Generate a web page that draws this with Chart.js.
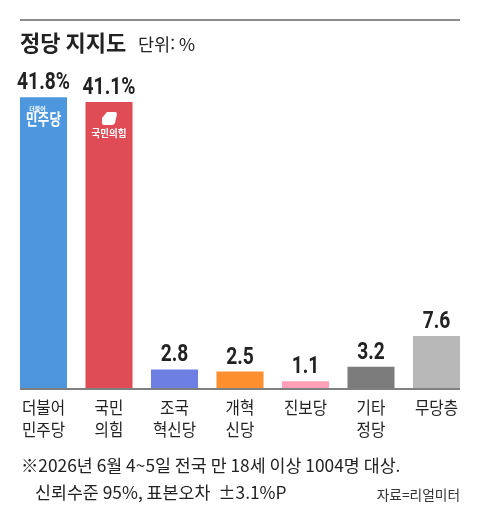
<!DOCTYPE html>
<html lang="ko">
<head>
<meta charset="utf-8">
<title>정당 지지도</title>
<script src="https://cdn.jsdelivr.net/npm/chart.js@4.4.1/dist/chart.umd.min.js"></script>
<style>
  html, body { margin: 0; padding: 0; background: #fff; }
  #wrap { position: relative; width: 480px; height: 525px; }
</style>
</head>
<body>
<div id="wrap"><canvas id="chart" width="480" height="525"></canvas></div>
<script>
// data
const parties = [['더불어', '민주당'], ['국민', '의힘'], ['조국', '혁신당'], ['개혁', '신당'], ['진보당'], ['기타', '정당'], ['무당층']];
const support = [41.8, 41.1, 2.8, 2.5, 1.1, 3.2, 7.6];
const valueLabels = ['41.8%', '41.1%', '2.8', '2.5', '1.1', '3.2', '7.6'];
const barColors = ['#4c97dd', '#e04c55', '#6e7fe3', '#fd8f2f', '#ffa0b8', '#7c7c7c', '#b8b8b8'];

const KR = '"Noto Sans CJK KR", "Noto Sans", sans-serif';
const NUM = 'Roboto, "Noto Sans CJK KR", sans-serif';

// draws text, optionally squeezed horizontally
function drawText(ctx, text, x, y, font, color, align, sx) {
  ctx.save();
  ctx.font = font;
  ctx.fillStyle = color;
  ctx.textAlign = align || 'left';
  ctx.textBaseline = 'alphabetic';
  ctx.translate(x, y);
  ctx.scale(sx || 1, 1);
  ctx.fillText(text, 0, 0);
  ctx.restore();
}

const decoPlugin = {
  id: 'deco',
  afterDatasetsDraw(chart) {
    const { ctx, chartArea } = chart;
    const bars = chart.getDatasetMeta(0).data;
    const left = bars[0].x - bars[0].width / 2;
    const right = bars[bars.length - 1].x + bars[bars.length - 1].width / 2;

    ctx.save();
    // top rule
    ctx.fillStyle = '#8c8c8c';
    ctx.fillRect(left, 19, right - left, 2);
    // baseline
    ctx.fillStyle = '#808080';
    ctx.fillRect(left, chartArea.bottom - 1, right - left, 2);
    ctx.restore();

    // title
    drawText(ctx, '정당 지지도', left, 51, '700 22px ' + KR, '#222', 'left', 1);
    drawText(ctx, '단위: %', 138, 51, '400 17px ' + KR, '#222', 'left', 1.03);

    bars.forEach((bar, i) => {
      // value label
      drawText(ctx, valueLabels[i], bar.x, bar.y - 8, '700 24px ' + NUM, '#222', 'center', 0.8);
      // category label
      parties[i].forEach((line, j) => {
        drawText(ctx, line, bar.x, chartArea.bottom + 25 + j * 22, '400 17px ' + KR, '#222', 'center', 0.92);
      });
    });

    // party marks inside the two large bars
    const b0 = bars[0];
    drawText(ctx, '더불어', b0.x - 6, b0.y + 14, '700 6px ' + KR, '#fff', 'center', 1);
    drawText(ctx, '민주당', b0.x, b0.y + 28, '700 16px ' + KR, '#fff', 'center', 0.8);

    const b1 = bars[1];
    ctx.save();
    ctx.fillStyle = '#fff';
    ctx.beginPath();
    ctx.moveTo(b1.x - 2, b1.y + 10);
    ctx.lineTo(b1.x + 6, b1.y + 10);
    ctx.quadraticCurveTo(b1.x + 8, b1.y + 10, b1.x + 8, b1.y + 12);
    ctx.lineTo(b1.x + 6, b1.y + 21);
    ctx.quadraticCurveTo(b1.x + 5, b1.y + 23, b1.x + 3, b1.y + 23);
    ctx.lineTo(b1.x - 5, b1.y + 23);
    ctx.quadraticCurveTo(b1.x - 7, b1.y + 23, b1.x - 7, b1.y + 21);
    ctx.lineTo(b1.x - 7, b1.y + 16);
    ctx.closePath();
    ctx.fill();
    ctx.restore();
    drawText(ctx, '국민의힘', b1.x, b1.y + 35, '700 10px ' + KR, '#fff', 'center', 0.95);

    // footnote
    drawText(ctx, '※2026년 6월 4~5일 전국 만 18세 이상 1004명 대상.', left + 1, 472, '400 17px ' + KR, '#222', 'left', 1.02);
    drawText(ctx, '신뢰수준 95%, 표본오차  ±3.1%P', 35, 499, '400 17px ' + KR, '#222', 'left', 1.02);
    drawText(ctx, '자료=리얼미터', right, 500, '400 14px ' + KR, '#333', 'right', 0.98);
  }
};

new Chart(document.getElementById('chart').getContext('2d'), {
  type: 'bar',
  data: {
    labels: parties.map(p => p.join(' ')),
    datasets: [{
      data: support,
      backgroundColor: barColors,
      borderWidth: 0,
      barPercentage: 0.718,
      categoryPercentage: 1
    }]
  },
  options: {
    responsive: false,
    animation: false,
    layout: { padding: { top: 40, bottom: 136, left: 10.75, right: 10.75 } },
    plugins: { legend: { display: false }, tooltip: { enabled: false } },
    scales: {
      x: { display: false },
      y: { display: false, min: 0, max: 50 }
    }
  },
  plugins: [decoPlugin]
});
</script>
</body>
</html>
